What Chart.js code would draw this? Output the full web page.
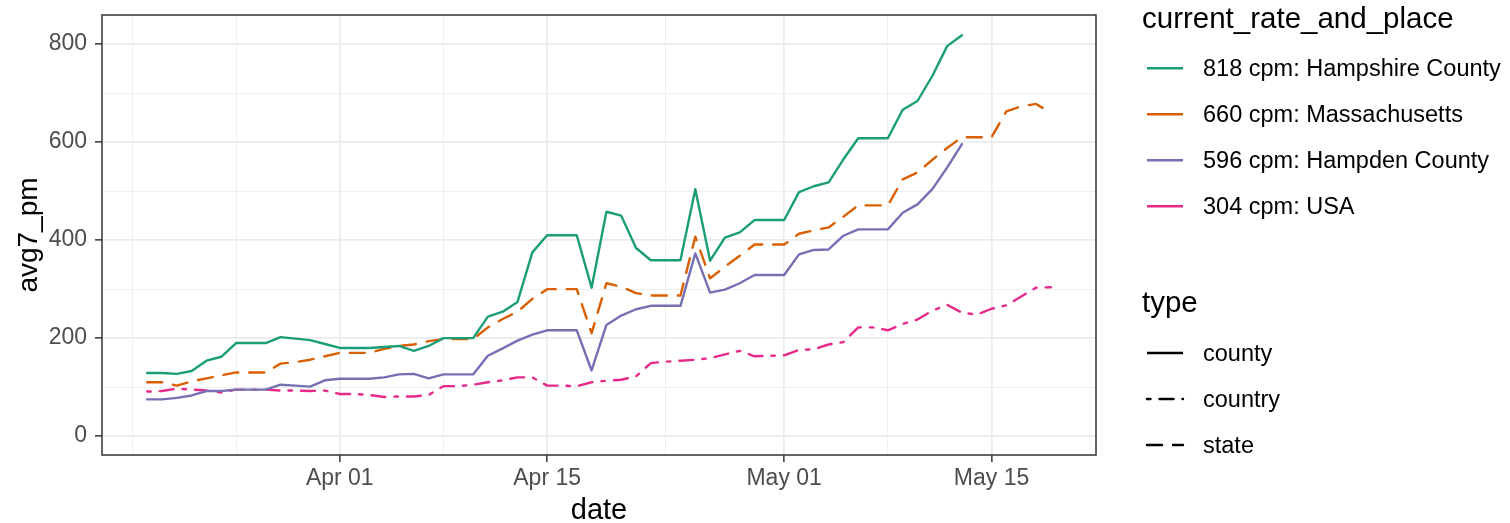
<!DOCTYPE html>
<html>
<head>
<meta charset="utf-8">
<script src="https://cdn.jsdelivr.net/npm/chart.js@4.4.1/dist/chart.umd.min.js"></script>
<style>
  body { margin: 0; background: #fff; font-family: "Liberation Sans", Arial, sans-serif; }
  #wrap { position: relative; width: 1510px; height: 523px; overflow: hidden; }
  #chart { position: absolute; left: 0; top: 0; }
  .lg { position: absolute; white-space: nowrap; line-height: 1; color: #000; }
  .lg-title { font-size: 29.5px; left: 1142px; }
  .lg-item { font-size: 23.5px; left: 1203px; }
  svg.key { position: absolute; left: 0; top: 0; }
</style>
</head>
<body>
<div id="wrap">
  <canvas id="chart" width="1510" height="523"></canvas>
  <div id="legend"></div>
</div>
<script>
// data (7 day average per million)
const dates = [
  '03-19','03-20','03-21','03-22','03-23','03-24','03-25','03-26','03-27','03-28','03-29','03-30','03-31',
  '04-01','04-02','04-03','04-04','04-05','04-06','04-07','04-08','04-09','04-10','04-11','04-12','04-13','04-14','04-15',
  '04-16','04-17','04-18','04-19','04-20','04-21','04-22','04-23','04-24','04-25','04-26','04-27','04-28','04-29','04-30',
  '05-01','05-02','05-03','05-04','05-05','05-06','05-07','05-08','05-09','05-10','05-11','05-12','05-13',
  '05-14','05-15','05-16','05-17','05-18','05-19'
];

const hampshire = [
  129,129,127,133,154,162,190,190,190,202,199,196,188,
  180,180,180,182,184,174,184,200,200,200,244,254,274,375,410,410,410,
  303,458,450,384,359,359,359,504,358,405,416,441,441,441,498,510,518,565,608,608,608,666,684,735,796,818
];
const massachusetts = [
  110,110,103,112,118,124,130,130,130,148,151,156,163,
  170,170,170,178,184,187,194,198,198,198,222,239,254,280,300,300,300,
  210,312,305,292,287,287,287,407,322,346,368,391,391,391,413,420,426,448,471,471,471,524,538,564,588,610,
  610,610,663,673,678,660
];
const hampden = [
  75,75,78,83,92,92,95,95,95,105,103,101,114,
  117,117,117,120,126,127,118,126,126,126,164,179,195,207,216,216,216,
  134,227,246,259,266,266,266,373,293,299,312,329,329,329,371,380,381,409,422,422,422,456,473,504,548,596
];
const usa = [
  91,92,97,95,93,89,95,95,95,93,93,92,93,
  86,86,84,80,81,81,84,102,102,105,110,114,120,120,103,103,102,
  110,113,115,122,149,152,154,156,159,167,174,163,164,165,176,177,187,192,222,222,216,229,238,256,268,252,
  248,260,267,285,303,304
];

const placeNames = ['818 cpm: Hampshire County', '660 cpm: Massachusetts', '596 cpm: Hampden County', '304 cpm: USA'];
const placeTypes = ['county', 'state', 'county', 'country'];
const typeNames = ['county', 'country', 'state'];

const xTickDates = ['04-01', '04-15', '05-01', '05-15'];
const xTickLabels = ['Apr 01', 'Apr 15', 'May 01', 'May 15'];
const yTickLabels = [0, 200, 400, 600, 800];

const colors = ['#1B9E77', '#D95F02', '#7570B3', '#E7298A'];
const dashes = { county: [], country: [3.5, 9, 14, 9], state: [15, 11] };
const FONT = '"Liberation Sans", Arial, sans-serif';

function dayOf(s) {
  const [m, d] = s.split('-').map(Number);
  return (Date.UTC(2020, m - 1, d) - Date.UTC(2020, 3, 1)) / 864e5;
}

const majorX = xTickDates.map(dayOf);
// ggplot style minor breaks: midpoints, plus one step before the first major
const minorX = [majorX[0] - (majorX[1] - majorX[0]) / 2, majorX[0] - (majorX[1] - majorX[0])];
for (let i = 0; i < majorX.length - 1; i++) minorX.push((majorX[i] + majorX[i + 1]) / 2);
const allX = majorX.concat(minorX).sort((a, b) => a - b);

const allY = [];
for (let i = 0; i < yTickLabels.length; i++) {
  allY.push(yTickLabels[i]);
  if (i < yTickLabels.length - 1) allY.push((yTickLabels[i] + yTickLabels[i + 1]) / 2);
}

const seriesValues = [hampshire, massachusetts, hampden, usa];

const datasets = seriesValues.map((vals, k) => ({
  label: placeNames[k],
  data: vals.map((v, i) => ({ x: dayOf(dates[i]), y: v })),
  borderColor: colors[k],
  borderWidth: 2.4,
  borderDash: dashes[placeTypes[k]],
  borderCapStyle: 'round',
  borderJoinStyle: 'round',
  pointRadius: 0,
  tension: 0,
  fill: false
}));

const panelBorder = {
  id: 'panelBorder',
  afterDraw(chart) {
    const { ctx, chartArea: a } = chart;
    ctx.save();
    ctx.strokeStyle = '#333333';
    ctx.lineWidth = 1.5;
    ctx.strokeRect(a.left, a.top, a.right - a.left, a.bottom - a.top);
    ctx.restore();
  }
};

const ctx = document.getElementById('chart').getContext('2d');
new Chart(ctx, {
  type: 'line',
  data: { datasets: datasets },
  plugins: [panelBorder],
  options: {
    responsive: false,
    animation: false,
    devicePixelRatio: 1,
    layout: { padding: { left: 0, right: 414, top: 15, bottom: 0 } },
    plugins: { legend: { display: false }, tooltip: { enabled: false } },
    scales: {
      x: {
        type: 'linear',
        min: -16.05,
        max: 51.05,
        afterBuildTicks: (scale) => { scale.ticks = allX.map(v => ({ value: v })); },
        afterFit: (scale) => {
          scale.height = 68;
          scale.paddingLeft = 0;
          scale.paddingRight = 0;
        },
        border: { display: false },
        grid: {
          color: '#EBEBEB',
          lineWidth: (c) => majorX.includes(c.tick && c.tick.value) ? 1.7 : 0.8,
          tickColor: (c) => majorX.includes(c.tick && c.tick.value) ? '#333333' : 'rgba(0,0,0,0)',
          tickLength: 7,
          tickWidth: 1.5
        },
        ticks: {
          autoSkip: false,
          maxRotation: 0,
          padding: 3,
          color: '#4D4D4D',
          font: { family: FONT, size: 23 },
          callback: (v) => {
            const i = majorX.indexOf(v);
            return i >= 0 ? xTickLabels[i] : '';
          }
        },
        title: {
          display: true,
          text: 'date',
          color: '#000',
          font: { family: FONT, size: 29, lineHeight: 0.85 },
          padding: { top: 0, bottom: 0 }
        }
      },
      y: {
        type: 'linear',
        min: -38.5,
        max: 859.5,
        afterBuildTicks: (scale) => { scale.ticks = allY.map(v => ({ value: v })); },
        afterFit: (scale) => {
          scale.width = 102;
          scale.paddingTop = 0;
          scale.paddingBottom = 0;
        },
        border: { display: false },
        grid: {
          color: '#EBEBEB',
          lineWidth: (c) => yTickLabels.includes(c.tick && c.tick.value) ? 1.7 : 0.8,
          tickColor: (c) => yTickLabels.includes(c.tick && c.tick.value) ? '#333333' : 'rgba(0,0,0,0)',
          tickLength: 7,
          tickWidth: 1.5
        },
        ticks: {
          autoSkip: false,
          padding: 8,
          color: '#4D4D4D',
          font: { family: FONT, size: 23 },
          callback: (v) => yTickLabels.includes(v) ? String(v) : ''
        },
        title: {
          display: true,
          text: 'avg7_pm',
          color: '#000',
          font: { family: FONT, size: 28 },
          padding: { top: 12, bottom: 0 }
        }
      }
    }
  }
});

// legend, ggplot style: colour guide then linetype guide
const legend = document.getElementById('legend');
const svgNS = 'http://www.w3.org/2000/svg';
const svg = document.createElementNS(svgNS, 'svg');
svg.setAttribute('class', 'key');
svg.setAttribute('width', '1510');
svg.setAttribute('height', '523');

function addText(cls, text, top) {
  const d = document.createElement('div');
  d.className = 'lg ' + cls;
  d.style.top = top + 'px';
  d.textContent = text;
  legend.appendChild(d);
}
function addKey(y, color, dash) {
  const l = document.createElementNS(svgNS, 'line');
  l.setAttribute('x1', 1147); l.setAttribute('x2', 1183);
  l.setAttribute('y1', y); l.setAttribute('y2', y);
  l.setAttribute('stroke', color);
  l.setAttribute('stroke-width', 2.4);
  l.setAttribute('stroke-linecap', dash.length ? 'round' : 'butt');
  if (dash.length) l.setAttribute('stroke-dasharray', dash.join(' '));
  svg.appendChild(l);
}

addText('lg-title', 'current_rate_and_place', 3);
placeNames.forEach((n, i) => {
  const top = 57 + i * 46;
  addText('lg-item', n, top);
  addKey(top + 11.3, colors[i], []);
});
addText('lg-title', 'type', 287);
typeNames.forEach((n, i) => {
  const top = 342 + i * 46;
  addText('lg-item', n, top);
  addKey(top + 11, '#000', dashes[n]);
});
legend.appendChild(svg);
</script>
</body>
</html>
